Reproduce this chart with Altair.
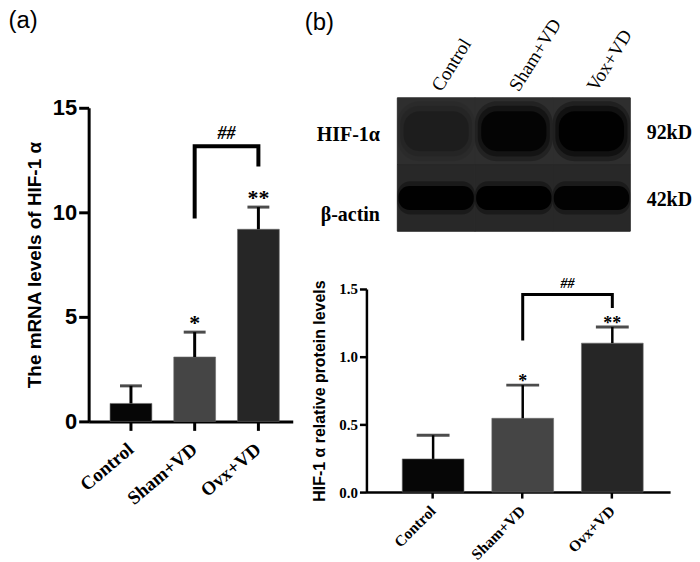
import altair as alt
import pandas as pd

# ---------------- data: panel (a) mRNA ----------------
groups_a = ["Control", "Sham+VD", "Ovx+VD"]
mrna_mean = [0.86, 3.08, 9.19]
mrna_upper = [1.70, 4.27, 10.25]
mrna_star = ["", "*", "**"]
mrna_star_y = [1.70, 4.9, 10.86]
bracket_a_group = ["Sham+VD", "Sham+VD", "Ovx+VD", "Ovx+VD"]
bracket_a_y = [9.8, 13.16, 13.16, 12.29]
hash_a_y = [13.75]

# ---------------- data: panel (b) western blot ----------------
lanes = ["Control", "Sham+VD", "Vox+VD"]
blot_rows = ["HIF-1α", "β-actin"]
blot_kd = ["92kD", "42kD"]
hif_intensity = [0.22, 0.85, 1.0]
actin_intensity = [0.95, 1.0, 0.92]

# ---------------- data: panel (b) protein ----------------
groups_b = ["Control", "Sham+VD", "Ovx+VD"]
protein_mean = [0.245, 0.545, 1.10]
protein_upper = [0.42, 0.79, 1.22]
protein_star = ["", "*", "**"]
protein_star_y = [0.42, 0.84, 1.27]
bracket_b_group = ["Sham+VD", "Sham+VD", "Ovx+VD", "Ovx+VD"]
bracket_b_y = [1.13, 1.46, 1.46, 1.37]
hash_b_y = [1.54]

SANS = "Liberation Sans"
SERIF = "Liberation Serif"

# ======================= panel (a) =======================
dfa = pd.DataFrame({"group": groups_a, "mean": mrna_mean, "upper": mrna_upper,
                    "star": mrna_star, "star_y": mrna_star_y})
bra = pd.DataFrame({"group": bracket_a_group, "y": bracket_a_y, "i": list(range(len(bracket_a_y)))})
hsa = pd.DataFrame({"group": ["Ovx+VD"], "y": hash_a_y, "t": ["##"]})

xa_scale = alt.Scale(domain=groups_a, paddingInner=0.344, paddingOuter=0.2735, align=0.614)
# plot box is 10px taller than the axis so that its top lines up with the blot
ya_scale = alt.Scale(domain=[0, 15], nice=False, rangeMax=10)
xa_axis = alt.Axis(title=None, labelAngle=-40, labelAlign="right", labelBaseline="middle",
                   labelFont=SERIF, labelFontWeight="bold", labelFontSize=19, labelColor="black",
                   labelPadding=16, domainColor="black", domainWidth=3, tickColor="black",
                   tickWidth=3, tickSize=9, grid=False)
ya_axis = alt.Axis(title="The mRNA levels of HIF-1 α", values=[0, 5, 10, 15], grid=False,
                   labelFont=SANS, labelFontWeight="bold", labelFontSize=22, labelColor="black",
                   labelPadding=2, domainColor="black", domainWidth=3, tickColor="black",
                   tickWidth=3, tickSize=10, titleFont=SANS, titleFontWeight="bold",
                   titleFontSize=19, titleColor="black", titlePadding=8)


def XA():
    return alt.X("group:N", sort=groups_a, scale=xa_scale, axis=xa_axis)


def YA(f):
    return alt.Y(f, scale=ya_scale, axis=ya_axis)


bars_a = alt.Chart(dfa).mark_bar(stroke="#6a6a6a", strokeWidth=0.6).encode(
    x=XA(), y=YA("mean:Q"),
    color=alt.Color("group:N", scale=alt.Scale(domain=groups_a, range=["#060606", "#454545", "#262626"]), legend=None))
err_a = alt.Chart(dfa).mark_rule(color="black", strokeWidth=3).encode(x=XA(), y=YA("mean:Q"), y2="upper:Q")
cap_a = alt.Chart(dfa).mark_tick(color="black", size=22, thickness=3).encode(x=XA(), y=YA("upper:Q"))
star_a = alt.Chart(dfa).mark_text(font=SERIF, fontWeight="bold", fontSize=22, baseline="middle", dy=4).encode(
    x=XA(), y=YA("star_y:Q"), text="star:N")
brk_a = alt.Chart(bra).mark_line(color="black", strokeWidth=4, strokeJoin="miter", strokeCap="square").encode(
    x=XA(), y=YA("y:Q"), order="i:O")
hash_a = alt.Chart(hsa).mark_text(font=SERIF, fontWeight="bold", fontStyle="italic", fontSize=18,
                                  baseline="middle", dx=-32).encode(x=XA(), y=YA("y:Q"), text="t:N")

chart_a = alt.layer(bars_a, err_a, cap_a, star_a, brk_a, hash_a).properties(
    width=205, height=325,
    title=alt.TitleParams("(a)", anchor="start", frame="bounds", font=SANS, fontSize=24,
                          fontWeight="normal", color="black", offset=64, dx=-17))

# ======================= blot =======================
hif_df = pd.DataFrame({"lane": lanes, "row": [blot_rows[0]] * 3, "intensity": hif_intensity})
act_df = pd.DataFrame({"lane": lanes, "row": [blot_rows[1]] * 3, "intensity": actin_intensity})

xb_scale = alt.Scale(domain=lanes, paddingInner=0, paddingOuter=0.199, align=1)
yb_scale = alt.Scale(domain=blot_rows, paddingInner=0, paddingOuter=0)
top_axis = alt.Axis(title=None, orient="top", labelAngle=-58, labelAlign="left", labelBaseline="middle",
                    labelFont=SERIF, labelFontSize=19, labelColor="black", labelPadding=9,
                    domain=False, ticks=False, grid=False)
left_axis = alt.Axis(title=None, orient="left", labelFont=SERIF, labelFontWeight="bold", labelFontSize=20,
                     labelColor="black", domain=False, ticks=False, grid=False, labelPadding=-13,
                     labelOffset={"condition": {"test": "datum.value == '%s'" % blot_rows[1], "value": 17},
                                  "value": 4})
kd_expr = "{" + ",".join("'%s':'%s'" % (r, k) for r, k in zip(blot_rows, blot_kd)) + "}[datum.value]"
right_axis = alt.Axis(title=None, orient="right", labelFont=SERIF, labelFontWeight="bold", labelFontSize=20,
                      labelColor="black", domain=False, ticks=False, grid=False, labelPadding=16,
                      labelOffset=2, labelExpr=kd_expr)


def XB():
    return alt.X("lane:N", sort=lanes, scale=xb_scale, axis=top_axis)


def YB(axis=None):
    return alt.Y("row:N", sort=blot_rows, scale=yb_scale, axis=axis)


bg_hif = alt.Chart(hif_df).mark_rect(color="#2e2e2e", stroke="#2e2e2e", strokeWidth=1).encode(
    x=XB(), y=YB(left_axis))
bg_act = alt.Chart(act_df).mark_rect(color="#282828", stroke="#282828", strokeWidth=1).encode(
    x=XB(), y=YB(None))
kd = alt.Chart(hif_df).mark_rect(opacity=0).encode(x=XB(), y=YB(right_axis))

band_layers = []
for wb, hb, cr, op in [(1.0, 0.9, 22, 0.3), (0.93, 0.76, 19, 0.45), (0.84, 0.6, 16, 0.9)]:
    band_layers.append(alt.Chart(hif_df).mark_rect(width={"band": wb}, height={"band": hb}, cornerRadius=cr,
                                                   color="black").encode(
        x=XB(), y=YB(None),
        opacity=alt.Opacity("intensity:Q", scale=alt.Scale(domain=[0, 1], range=[0, op]), legend=None)))
for wb, hb, cr, op in [(1.0, 0.5, 13, 0.35), (0.97, 0.36, 11, 1.0)]:
    band_layers.append(alt.Chart(act_df).mark_rect(width={"band": wb}, height={"band": hb}, cornerRadius=cr,
                                                   color="black").encode(
        x=XB(), y=YB(None),
        opacity=alt.Opacity("intensity:Q", scale=alt.Scale(domain=[0, 1], range=[0, op]), legend=None)))

blot = alt.layer(bg_hif, bg_act, kd, *band_layers).resolve_axis(y="independent").resolve_scale(
    opacity="independent").properties(
    width=265, height=134,
    title=alt.TitleParams("(b)", anchor="start", frame="group", font=SANS, fontSize=24,
                          fontWeight="normal", color="black", offset=0, dx=-62, dy=20))

# ======================= panel (b) protein =======================
dfb = pd.DataFrame({"group": groups_b, "mean": protein_mean, "upper": protein_upper,
                    "star": protein_star, "star_y": protein_star_y})
brb = pd.DataFrame({"group": bracket_b_group, "y": bracket_b_y, "i": list(range(len(bracket_b_y)))})
hsb = pd.DataFrame({"group": ["Ovx+VD"], "y": hash_b_y, "t": ["##"]})

xp_scale = alt.Scale(domain=groups_b, paddingInner=0.311, paddingOuter=0.35, align=0.571)
yp_scale = alt.Scale(domain=[0, 1.5], nice=False)
xp_axis = alt.Axis(title=None, labelAngle=-45, labelAlign="right", labelBaseline="middle",
                   labelFont=SERIF, labelFontWeight="bold", labelFontSize=15.5, labelColor="black",
                   labelPadding=10, domainColor="black", domainWidth=2.5, tickColor="black",
                   tickWidth=2.5, tickSize=6, grid=False)
yp_axis = alt.Axis(title="HIF-1 α relative protein levels", values=[0, 0.5, 1.0, 1.5], format=".1f",
                   grid=False, labelFont=SERIF, labelFontWeight="bold", labelFontSize=15, labelColor="black",
                   labelPadding=2, domainColor="black", domainWidth=2.5, tickColor="black",
                   tickWidth=2.5, tickSize=7, titleFont=SANS, titleFontWeight="bold",
                   titleFontSize=16, titleColor="black", titlePadding=11)


def XP():
    return alt.X("group:N", sort=groups_b, scale=xp_scale, axis=xp_axis)


def YP(f):
    return alt.Y(f, scale=yp_scale, axis=yp_axis)


bars_b = alt.Chart(dfb).mark_bar(stroke="#6a6a6a", strokeWidth=0.6).encode(
    x=XP(), y=YP("mean:Q"),
    color=alt.Color("group:N", scale=alt.Scale(domain=groups_b, range=["#000000", "#474747", "#2b2b2b"]), legend=None))
err_b = alt.Chart(dfb).mark_rule(color="black", strokeWidth=2.5).encode(x=XP(), y=YP("mean:Q"), y2="upper:Q")
cap_b = alt.Chart(dfb).mark_tick(color="black", size=33, thickness=3).encode(x=XP(), y=YP("upper:Q"))
star_b = alt.Chart(dfb).mark_text(font=SERIF, fontWeight="bold", fontSize=18, baseline="middle", dy=4).encode(
    x=XP(), y=YP("star_y:Q"), text="star:N")
brk_b = alt.Chart(brb).mark_line(color="black", strokeWidth=3, strokeJoin="miter", strokeCap="square").encode(
    x=XP(), y=YP("y:Q"), order="i:O")
hash_b = alt.Chart(hsb).mark_text(font=SERIF, fontWeight="bold", fontStyle="italic", fontSize=14,
                                  baseline="middle", dx=-45).encode(x=XP(), y=YP("y:Q"), text="t:N")

chart_b = alt.layer(bars_b, err_b, cap_b, star_b, brk_b, hash_b).properties(width=305, height=204)

col_b = alt.vconcat(blot, chart_b, spacing=58, bounds="flush")
chart = alt.hconcat(chart_a, col_b, spacing=74, bounds="flush").properties(
    padding=0, background="white").configure_view(stroke=None)

chart.save("out.html", embed_options={"renderer": "svg", "actions": False})
